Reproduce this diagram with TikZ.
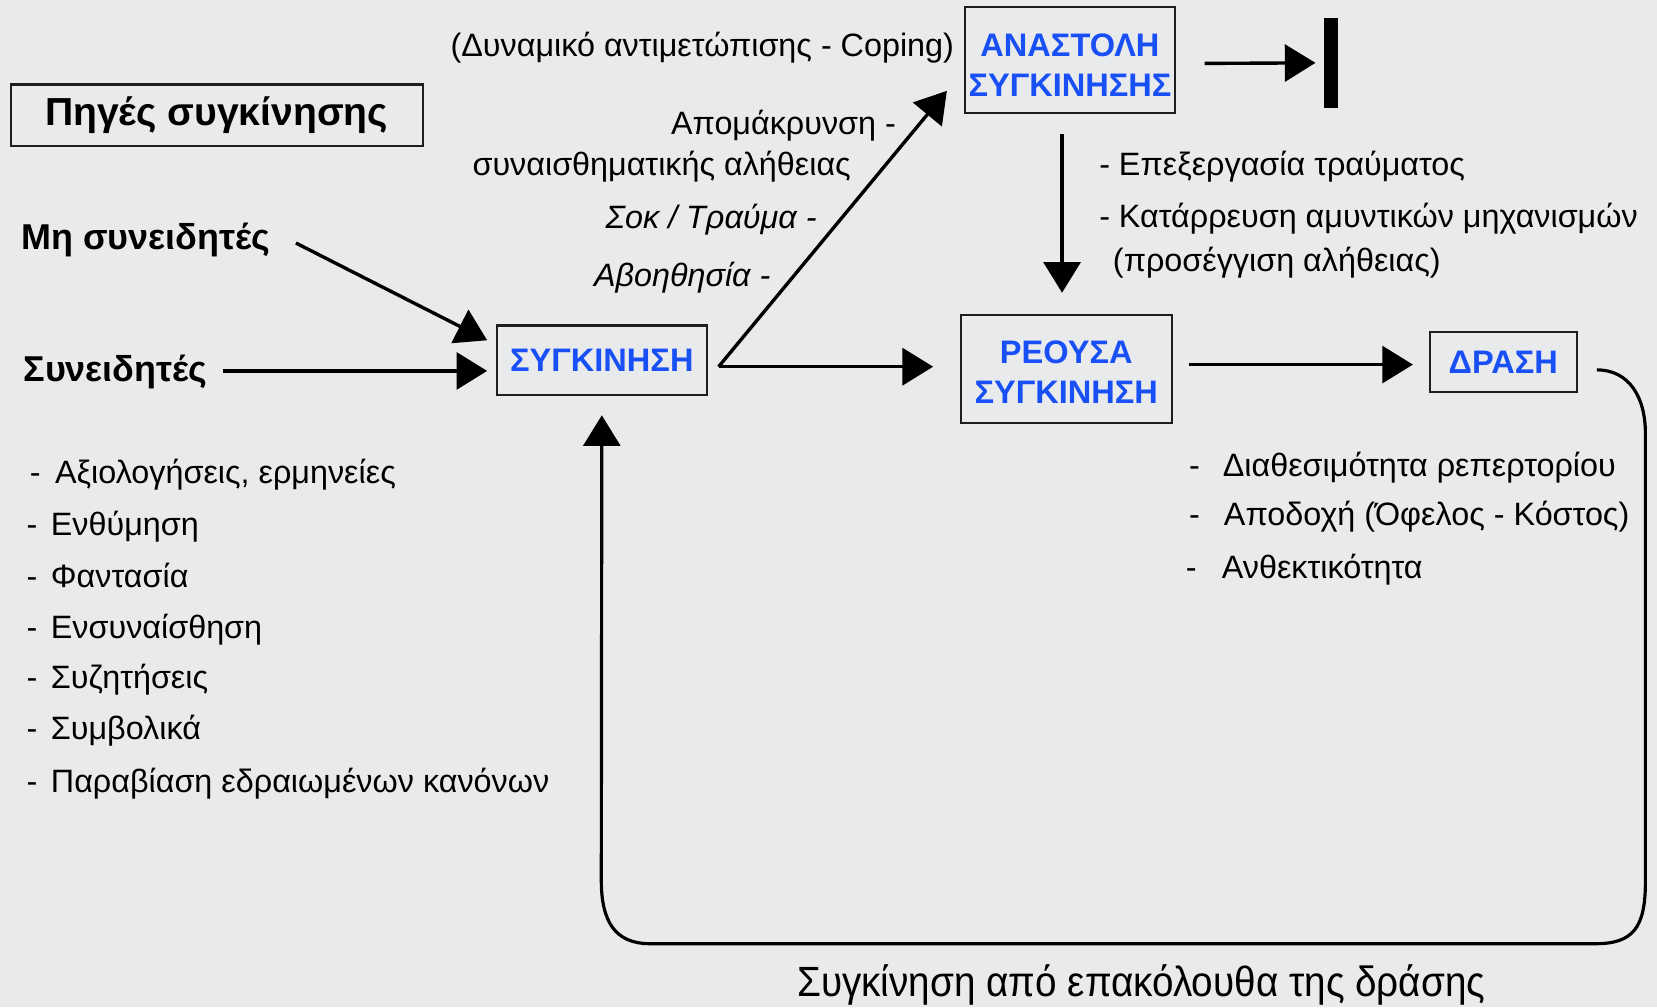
\documentclass[tikz,border=0pt]{standalone}
\usepackage{fontspec}
\setmainfont{Liberation Sans}
\newfontfamily\condfont[FakeStretch=0.915]{Liberation Sans}
\usetikzlibrary{arrows.meta,calc}
\definecolor{bg}{RGB}{233,234,236}
\definecolor{boxblue}{RGB}{25,80,245}
\definecolor{edge}{RGB}{30,30,30}
\begin{document}
\begin{tikzpicture}[x=1pt,y=-1pt,
  txt/.style={inner sep=0pt, font=\fontsize{30.6}{36}\selectfont, text height=21pt, text depth=0pt},
  itxt/.style={txt, font=\fontsize{30.6}{36}\selectfont\itshape},
  btxt/.style={inner sep=0pt, font=\fontsize{34}{40}\selectfont\bfseries, text height=22pt, text depth=0pt},
  srcbox/.style={draw=edge, line width=2pt, minimum width=390pt, minimum height=58pt, inner sep=0pt, font=\fontsize{37}{42}\selectfont\bfseries},
  bbox/.style={draw=edge, line width=2pt, inner sep=0pt, align=center, text=boxblue, font=\fontsize{30.8}{38}\selectfont\bfseries},
  btext/.style={inner sep=0pt, align=center, text=boxblue, font=\fontsize{30.8}{38}\selectfont\bfseries},
  arr/.style={line width=3.2pt, -{Triangle[length=29pt,width=35pt]}},
  loopline/.style={line width=3pt},
]
\useasboundingbox[fill=bg] (0,0) rectangle (1568,953);

% boxes
\node[srcbox] (pig) at (205,109) {Πηγές συγκίνησης};
\node[bbox, minimum width=199pt, minimum height=66pt] (syg) at (569.5,341) {ΣΥΓΚΙΝΗΣΗ};
\node[bbox, minimum width=199pt, minimum height=100pt,
  label={[btext, yshift=-4.5pt]center:ΑΝΑΣΤΟΛΗ\\ΣΥΓΚΙΝΗΣΗΣ}] (anast) at (1012.5,57) {};
\node[bbox, minimum width=200pt, minimum height=102pt,
  label={[btext, yshift=-3.5pt]center:ΡΕΟΥΣΑ\\ΣΥΓΚΙΝΗΣΗ}] (reo) at (1009,349) {};
\node[bbox, minimum width=139pt, minimum height=57pt] (dra) at (1422.5,342.5) {ΔΡΑΣΗ};
\node[fill=black, minimum width=13pt, minimum height=85pt, inner sep=0pt] (bar) at (1259.5,59.5) {};

% sources
\node[btxt, anchor=west] (mh) at (20,225) {Μη συνειδητές};
\node[btxt, anchor=west] (syn) at (22,350) {Συνειδητές};

% left list
\node[txt, anchor=west] (l1) at (28,447) {\makebox[24pt][l]{-}Αξιολογήσεις, ερμηνείες};
\node[txt, anchor=west] (l2) at (25,496) {\makebox[23pt][l]{-}Ενθύμηση};
\node[txt, anchor=west] (l3) at (25,545) {\makebox[23pt][l]{-}Φαντασία};
\node[txt, anchor=west] (l4) at (25,594) {\makebox[23pt][l]{-}Ενσυναίσθηση};
\node[txt, anchor=west] (l5) at (25,641) {\makebox[23pt][l]{-}Συζητήσεις};
\node[txt, anchor=west] (l6) at (25,689) {\makebox[23pt][l]{-}Συμβολικά};
\node[txt, anchor=west] (l7) at (25,739) {\makebox[23pt][l]{-}Παραβίαση εδραιωμένων κανόνων};

% middle labels
\node[txt, anchor=east] (cop) at (903,43) {(Δυναμικό αντιμετώπισης - Coping)};
\node[txt, anchor=east] (apo) at (848,117) {Απομάκρυνση -};
\node[txt, anchor=west] (syna) at (447,156) {συναισθηματικής αλήθειας};
\node[itxt, anchor=west] (sok) at (573,206) {Σοκ / Τραύμα -};
\node[itxt, anchor=west] (avo) at (562,261) {Αβοηθησία -};

% right top labels
\node[txt, anchor=west] (ep) at (1040,156) {- Επεξεργασία τραύματος};
\node[txt, anchor=west] (kat) at (1040,205) {- Κατάρρευση αμυντικών μηχανισμών};
\node[txt, anchor=west] (pros) at (1053,246) {(προσέγγιση αλήθειας)};

% right list
\node[txt, anchor=west] (r1) at (1125,440) {\makebox[32pt][l]{-}Διαθεσιμότητα ρεπερτορίου};
\node[txt, anchor=west] (r2) at (1125,487) {\makebox[33pt][l]{-}Αποδοχή (Όφελος - Κόστος)};
\node[txt, anchor=west] (r3) at (1122,537) {\makebox[34pt][l]{-}Ανθεκτικότητα};

% bottom label
\node[inner sep=0pt, font=\fontsize{40}{44}\selectfont\condfont] (bot) at (1080,932) {Συγκίνηση από επακόλουθα της δράσης};

% connectors
\coordinate (split) at ([xshift=10pt,yshift=-6pt]syg.east);
\draw[arr] ([xshift=24pt,yshift=-5pt]mh.east) -- ([xshift=-8pt,yshift=19pt]syg.west);
\draw[arr] ([xshift=14pt,yshift=-1pt]syn.east) -- ([xshift=-8pt,yshift=-10pt]syg.west);
\draw[arr] (split) -- ([xshift=-25pt,yshift=2pt]reo.west);
\draw[arr] (split) -- ([xshift=-16pt,yshift=22pt]anast.south west);
\draw[arr] ([xshift=27pt,yshift=-3pt]anast.east) -- ([xshift=-8pt]bar.west);
\draw[arr] ([xshift=-7.5pt,yshift=-19pt]anast.south) -- ([xshift=-4pt,yshift=20pt]reo.north);
\draw[arr] ([xshift=15pt,yshift=4pt]reo.east) -- ([xshift=-15pt,yshift=-2.5pt]dra.west);
\draw[loopline, -{Triangle[length=29pt,width=35pt]}]
  ([xshift=18pt,yshift=-7.5pt]dra.east) .. controls +(30,0) and (1557,375) .. (1557,410)
  -- (1557,835) .. controls (1557,878) and (1545,893) .. (1510,893)
  -- (615,893) .. controls (582,893) and (569,872) .. (569,833)
  -- ([yshift=-18pt]syg.south);
\end{tikzpicture}
\end{document}
